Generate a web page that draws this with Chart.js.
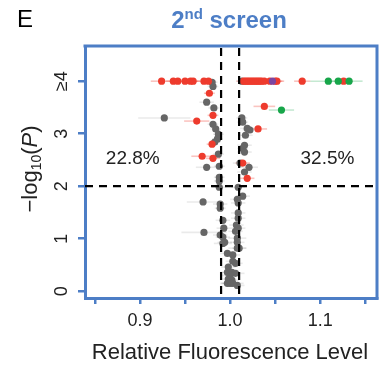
<!DOCTYPE html>
<html>
<head>
<meta charset="utf-8">
<script src="https://cdn.jsdelivr.net/npm/chart.js@4.4.1/dist/chart.umd.min.js"></script>
<style>
  html, body { margin: 0; padding: 0; background: #fff; }
  #wrap { width: 391px; height: 366px; position: relative; }
</style>
</head>
<body>
<div id="wrap"><canvas id="chart"></canvas></div>
<script>
/* ── Data ── */
const grayX = [0.980, 0.981, 0.974, 0.982, 0.927, 0.981, 0.984, 0.987, 0.986, 0.983,
               0.987, 0.974, 0.988, 0.988, 0.988, 0.988, 0.970, 0.989, 0.989, 0.992,
               0.993, 0.971, 0.989, 0.992, 0.994, 0.992, 0.997, 1.003, 1.003, 1.006,
               0.998, 0.997, 1.002, 1.006, 1.000, 0.998, 1.002, 1.000, 1.003, 0.997,
               1.008,
               1.013, 1.013, 1.014, 1.019, 1.022, 1.017, 1.016, 1.014, 1.016, 1.011,
               1.021, 1.016, 1.009, 1.014, 1.008, 1.009, 1.009, 1.009, 1.007, 1.009,
               1.006, 1.008, 1.008, 1.008, 1.010];
const grayY = [3.98, 3.90, 3.60, 3.49, 3.30, 3.18, 3.09, 2.99, 2.90, 2.84,
               2.61, 2.36, 2.38, 2.17, 2.10, 1.98, 1.70, 1.66, 1.58, 1.35,
               1.20, 1.12, 1.07, 1.03, 0.93, 0.91, 0.72, 0.69, 0.57, 0.53,
               0.46, 0.36, 0.36, 0.34, 0.30, 0.23, 0.21, 0.15, 0.15, 0.15,
               0.11,
               4.00, 3.30, 3.22, 3.10, 3.07, 2.97, 2.78, 2.72, 2.65, 2.44,
               2.36, 2.27, 1.98, 1.81, 1.75, 1.68, 1.49, 1.39, 1.26, 1.20,
               1.14, 1.01, 0.93, 0.82, 0.82];
const grayErr = [0.006, 0.006, 0.008, 0.006, 0.029, 0.006, 0.006, 0.006, 0.006, 0.006,
                 0.006, 0.012, 0.006, 0.006, 0.006, 0.008, 0.018, 0.008, 0.006, 0.008,
                 0.008, 0.025, 0.008, 0.008, 0.008, 0.010, 0.008, 0.008, 0.008, 0.008,
                 0.008, 0.008, 0.008, 0.010, 0.010, 0.008, 0.008, 0.010, 0.012, 0.008,
                 0.008,
                 0.006, 0.006, 0.006, 0.008, 0.008, 0.008, 0.008, 0.006, 0.008, 0.008,
                 0.010, 0.008, 0.008, 0.008, 0.008, 0.008, 0.008, 0.008, 0.008, 0.008,
                 0.008, 0.010, 0.008, 0.010, 0.008];

const redX = [0.924, 0.937, 0.942, 0.950, 0.956, 0.959, 0.971, 0.976,
              0.977, 0.981, 0.963, 0.980, 0.969, 0.981,
              1.015, 1.017, 1.019, 1.021, 1.023, 1.025, 1.027, 1.029, 1.031, 1.033,
              1.035, 1.038, 1.044, 1.050, 1.052, 1.080, 1.126,
              1.038, 1.031, 1.014, 1.019];
const redY = [4, 4, 4, 4, 4, 4, 4, 4,
              3.77, 3.35, 3.24, 2.80, 2.57, 2.53,
              4, 4, 4, 4, 4, 4, 4, 4, 4, 4,
              4, 4, 4, 4, 4, 4, 4,
              3.52, 3.09, 2.44, 2.15];
const redErr = [0.012, 0.008, 0.008, 0.008, 0.008, 0.008, 0.008, 0.008,
                0.006, 0.006, 0.014, 0.006, 0.012, 0.008,
                0.008, 0.008, 0.008, 0.008, 0.008, 0.008, 0.008, 0.008, 0.008, 0.008,
                0.008, 0.008, 0.008, 0.008, 0.008, 0.009, 0.010,
                0.012, 0.010, 0.008, 0.008];

const greenX = [1.109, 1.120, 1.132, 1.057];
const greenY = [4, 4, 4, 3.45];
const greenErr = [0.020, 0.012, 0.015, 0.014];

const purpleX = [1.047];
const purpleY = [4];
const purpleErr = [0.008];

const xTickValues = [0.85, 0.90, 0.95, 1.00, 1.05, 1.10, 1.15];
const xTickLabels = { '0.9': '0.9', '1': '1.0', '1.1': '1.1' };
const yTickValues = [0, 1, 2, 3, 4];
const yTickLabels = ['0', '1', '2', '3', '\u22654'];

const cutoffX = [0.99, 1.01];
const cutoffY = 2;
const pctLeft = '22.8%';
const pctRight = '32.5%';
const xTitle = 'Relative Fluorescence Level';

/* ── Palette ── */
const C = {
  blue:   '#4d7ec6',
  gray:   '#666666',
  red:    '#ee3b2d',
  green:  '#17a64a',
  purple: '#7d45a0',
  text:   '#222222',
};
const FONT = "'Liberation Sans', Arial, sans-serif";

const pts = (xs, ys) => xs.map((x, i) => ({ x, y: ys[i] }));

function ds(label, xs, ys, errs, color, errColor) {
  return {
    label, data: pts(xs, ys), errs, errColor,
    backgroundColor: color, borderColor: color,
    pointRadius: 3.6, pointBorderWidth: 0, pointHoverRadius: 3.6,
  };
}

/* ── Plugins ── */
const errorBars = {
  id: 'errorBars',
  beforeDatasetsDraw(chart) {
    const { ctx, scales: { x, y } } = chart;
    ctx.save();
    ctx.lineWidth = 1.6;
    chart.data.datasets.forEach(d => {
      ctx.strokeStyle = d.errColor;
      d.data.forEach((p, i) => {
        const py = y.getPixelForValue(p.y);
        ctx.beginPath();
        ctx.moveTo(x.getPixelForValue(p.x - d.errs[i]), py);
        ctx.lineTo(x.getPixelForValue(p.x + d.errs[i]), py);
        ctx.stroke();
      });
    });
    ctx.restore();
  },
};

const overlay = {
  id: 'overlay',
  afterDatasetsDraw(chart) {
    const { ctx, chartArea: a, scales: { x, y } } = chart;
    ctx.save();
    // cutoff lines
    ctx.strokeStyle = '#000';
    ctx.lineWidth = 2.2;
    ctx.setLineDash([8, 6]);
    cutoffX.forEach(v => {
      const px = x.getPixelForValue(v);
      ctx.beginPath(); ctx.moveTo(px, a.top + 2); ctx.lineTo(px, a.bottom); ctx.stroke();
    });
    const py = y.getPixelForValue(cutoffY);
    ctx.beginPath(); ctx.moveTo(a.left, py); ctx.lineTo(a.right, py); ctx.stroke();
    ctx.setLineDash([]);

    // top / right frame
    ctx.strokeStyle = C.blue;
    ctx.lineWidth = 3;
    ctx.beginPath();
    ctx.moveTo(a.left - 1.5, a.top); ctx.lineTo(a.right, a.top); ctx.lineTo(a.right, a.bottom + 1.5);
    ctx.stroke();

    // percentages
    ctx.fillStyle = C.text;
    ctx.font = `19px ${FONT}`;
    ctx.textAlign = 'center'; ctx.textBaseline = 'middle';
    ctx.fillText(pctLeft, x.getPixelForValue(0.892), y.getPixelForValue(2.53));
    ctx.fillText(pctRight, x.getPixelForValue(1.108), y.getPixelForValue(2.53));

    // x title
    ctx.font = `22px ${FONT}`;
    ctx.fillText(xTitle, 230, 353);

    // rotated y tick labels
    ctx.font = `18px ${FONT}`;
    yTickValues.forEach((v, i) => {
      ctx.save();
      ctx.translate(62, y.getPixelForValue(v));
      ctx.rotate(-Math.PI / 2);
      ctx.fillText(yTickLabels[i], 0, 0);
      ctx.restore();
    });

    // y title: -log10(P)
    ctx.save();
    ctx.translate(31, 169);
    ctx.rotate(-Math.PI / 2);
    ctx.textAlign = 'left'; ctx.textBaseline = 'middle';
    const parts = [
      { t: '\u2212log', f: `22px ${FONT}`, dy: 0 },
      { t: '10', f: `14px ${FONT}`, dy: 6 },
      { t: '(', f: `22px ${FONT}`, dy: 0 },
      { t: 'P', f: `italic 22px ${FONT}`, dy: 0 },
      { t: ')', f: `22px ${FONT}`, dy: 0 },
    ];
    let w = 0;
    parts.forEach(p => { ctx.font = p.f; w += ctx.measureText(p.t).width; });
    let cx = -w / 2;
    parts.forEach(p => {
      ctx.font = p.f; ctx.fillText(p.t, cx, p.dy); cx += ctx.measureText(p.t).width;
    });
    ctx.restore();

    // title "2nd screen"
    ctx.fillStyle = C.blue;
    ctx.textAlign = 'left'; ctx.textBaseline = 'alphabetic';
    const tParts = [
      { t: '2', f: `bold 24px ${FONT}`, dy: 0 },
      { t: 'nd', f: `bold 15px ${FONT}`, dy: -9 },
      { t: ' screen', f: `bold 24px ${FONT}`, dy: 0 },
    ];
    let tw = 0;
    tParts.forEach(p => { ctx.font = p.f; tw += ctx.measureText(p.t).width; });
    let tx = 229 - tw / 2;
    tParts.forEach(p => {
      ctx.font = p.f; ctx.fillText(p.t, tx, 28 + p.dy); tx += ctx.measureText(p.t).width;
    });

    // panel letter
    ctx.fillStyle = '#000';
    ctx.font = `24px ${FONT}`;
    ctx.fillText('E', 17, 27);
    ctx.restore();
  },
};

/* ── Chart ── */
new Chart(document.getElementById('chart'), {
  type: 'scatter',
  data: {
    datasets: [
      ds('purple', purpleX, purpleY, purpleErr, C.purple, 'rgba(125,69,160,0.35)'),
      ds('green', greenX, greenY, greenErr, C.green, 'rgba(23,166,74,0.25)'),
      ds('red', redX, redY, redErr, C.red, 'rgba(238,59,45,0.3)'),
      ds('gray', grayX, grayY, grayErr, C.gray, 'rgba(150,150,150,0.2)'),
    ],
  },
  options: {
    responsive: true, maintainAspectRatio: false, animation: false,
    layout: { padding: { left: 0, right: 14, top: 46, bottom: 0 } },
    plugins: { legend: { display: false }, tooltip: { enabled: false } },
    scales: {
      x: {
        type: 'linear', min: 0.839, max: 1.163,
        afterBuildTicks: s => { s.ticks = xTickValues.map(v => ({ value: v })); },
        afterFit: s => { s.height = 68; },
        ticks: {
          callback: v => xTickLabels[String(+v.toFixed(2))] ?? '',
          color: C.text, font: { family: FONT, size: 18 }, padding: 6, maxRotation: 0,
        },
        grid: { drawOnChartArea: false, drawTicks: true, tickLength: 6, color: C.blue, lineWidth: 2.5 },
        border: { color: C.blue, width: 3 },
      },
      y: {
        type: 'linear', min: -0.13, max: 4.67,
        afterBuildTicks: s => { s.ticks = yTickValues.map(v => ({ value: v })); },
        afterFit: s => { s.width = 85; },
        ticks: { display: false },
        grid: { drawOnChartArea: false, drawTicks: true, tickLength: 7, color: C.blue, lineWidth: 2.5 },
        border: { color: C.blue, width: 3 },
      },
    },
  },
  plugins: [errorBars, overlay],
});
</script>
</body>
</html>
